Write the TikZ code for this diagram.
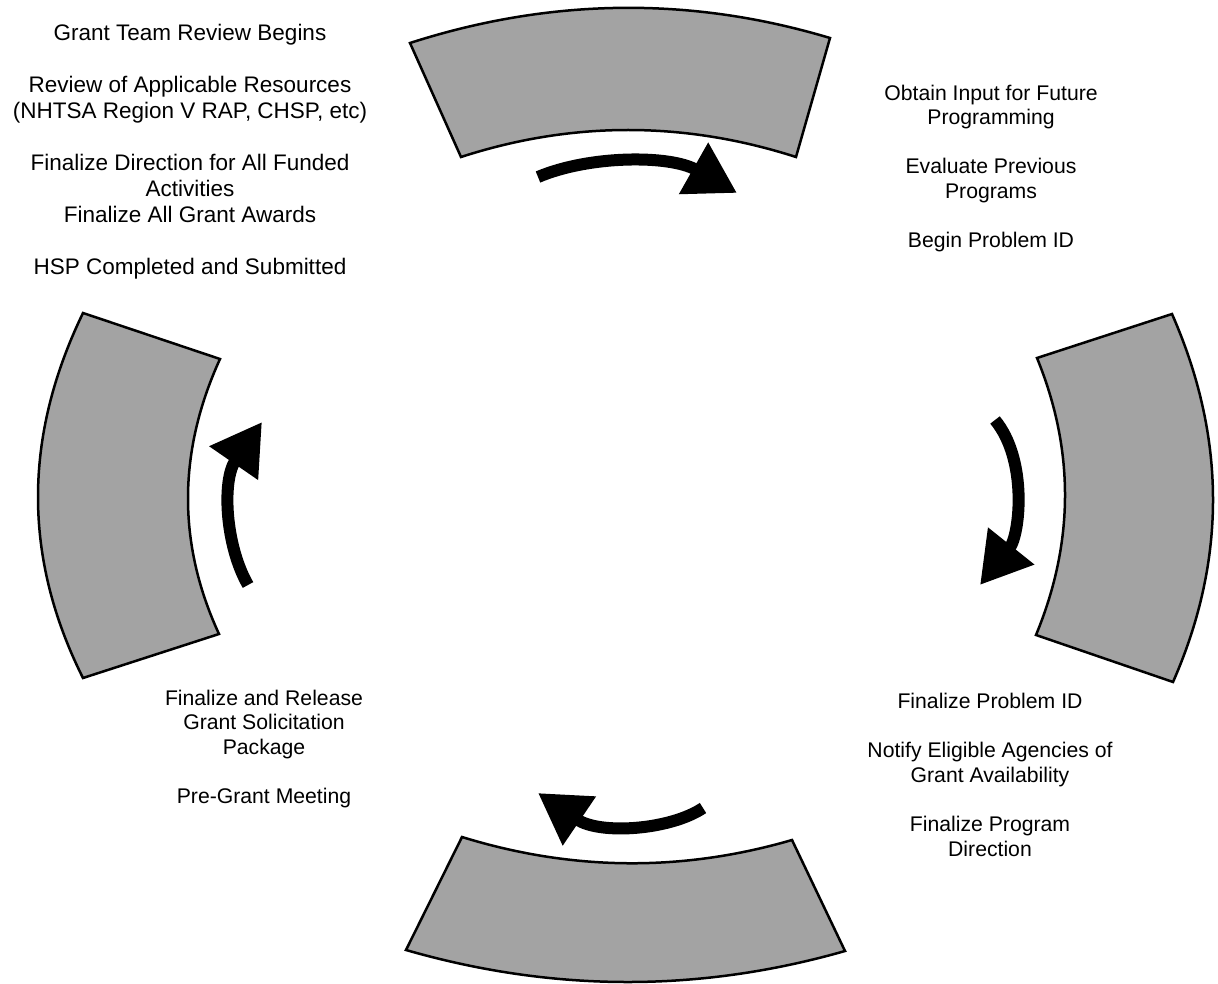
\documentclass[tikz,border=0pt]{standalone}
\usepackage{fontspec}
\setmainfont{Liberation Sans}
\usetikzlibrary{arrows.meta}

\begin{document}
\begin{tikzpicture}[x=1pt, y=-1pt,
  sector/.style={draw=black, line width=2.5pt, fill=black!36, line join=miter},
  cycarrow/.style={line width=12pt, -{Triangle[width=56pt, length=50pt]}},
  bigtext/.style={align=center, font=\fontsize{22.5}{26}\selectfont},
  steptext/.style={align=center, font=\fontsize{21.2}{24.6}\selectfont}]
  \useasboundingbox (0,0) rectangle (1218,984);

  % Sectors of the cycle
  \draw[sector] (410,43) .. controls (550,-2) and (690,-4) .. (830,38) -- (796,157)
    .. controls (684,121) and (572,121) .. (461,157) -- cycle;
  \draw[sector] (1037,358) -- (1172,314) .. controls (1226,437) and (1227,559) .. (1173,682)
    -- (1036,635) .. controls (1074,543) and (1075,451) .. (1037,358) -- cycle;
  \draw[sector] (462,837) .. controls (572,871) and (682,872) .. (792,840) -- (845,951)
    .. controls (698,993) and (552,992) .. (406,950) -- cycle;
  \draw[sector] (83,313) -- (220,359) .. controls (178,451) and (177,543) .. (219,634)
    -- (83,678) .. controls (23,558) and (23,437) .. (83,313) -- cycle;

  % Arrows between the sectors
  \coordinate (topS) at (538,177);  \coordinate (topE) at (737,193);
  \coordinate (rgtS) at (995,420);  \coordinate (rgtE) at (980,585);
  \coordinate (botS) at (703,808);  \coordinate (botE) at (538,793);
  \coordinate (lftS) at (248,585);  \coordinate (lftE) at (262,422);
  \draw[cycarrow] (topS) .. controls (590,155) and (670,155) .. (topE);
  \draw[cycarrow] (rgtS) .. controls (1028,460) and (1020,535) .. (rgtE);
  \draw[cycarrow] (botS) .. controls (670,830) and (600,835) .. (botE);
  \draw[cycarrow] (lftS) .. controls (225,545) and (222,480) .. (lftE);

  % Step texts
  \node[bigtext] (review) at (190,152) {Grant Team Review Begins\\[26pt]
    Review of Applicable Resources\\(NHTSA Region V RAP, CHSP, etc)\\[26pt]
    Finalize Direction for All Funded\\Activities\\Finalize All Grant Awards\\[26pt]
    HSP Completed and Submitted};
  \node[steptext] (input) at (991,168.5) {Obtain Input for Future\\Programming\\[24.6pt]
    Evaluate Previous\\Programs\\[24.6pt]Begin Problem ID};
  \node[steptext] (problem) at (990,775) {Finalize Problem ID\\[24.6pt]
    Notify Eligible Agencies of\\Grant Availability\\[24.6pt]
    Finalize Program\\Direction};
  \node[steptext] (release) at (264,749) {Finalize and Release\\Grant Solicitation\\Package\\[24.6pt]
    Pre-Grant Meeting};
\end{tikzpicture}
\end{document}
